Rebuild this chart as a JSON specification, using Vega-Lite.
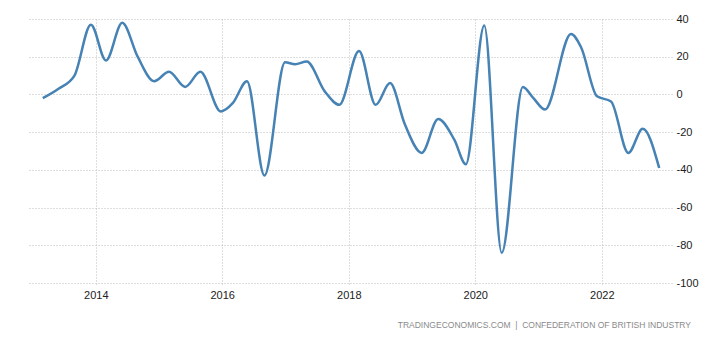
{
  "$schema": "https://vega.github.io/schema/vega-lite/v6.json",
  "width": 645,
  "height": 264,
  "padding": {"left": 27, "top": 13, "right": 5, "bottom": 5},
  "background": "white",
  "config": {"view": {"stroke": null}, "font": "Liberation Sans"},
  "title": {
    "text": "TRADINGECONOMICS.COM \u00a0|\u00a0 CONFEDERATION OF BRITISH INDUSTRY",
    "orient": "bottom",
    "anchor": "end",
    "frame": "group",
    "dx": 19,
    "offset": 21,
    "fontSize": 8.5,
    "fontWeight": "normal",
    "color": "#8a8a8a",
    "font": "Liberation Sans"
  },
  "data": {
    "values": [
      {"date": "2013-03-01", "value": -2},
      {"date": "2013-05-31", "value": 3},
      {"date": "2013-08-31", "value": 10},
      {"date": "2013-12-04", "value": 37},
      {"date": "2014-03-01", "value": 18},
      {"date": "2014-06-03", "value": 38},
      {"date": "2014-08-31", "value": 20},
      {"date": "2014-12-04", "value": 7},
      {"date": "2015-02-28", "value": 12},
      {"date": "2015-06-01", "value": 4},
      {"date": "2015-08-28", "value": 12},
      {"date": "2015-12-24", "value": -9},
      {"date": "2016-03-03", "value": -4.5},
      {"date": "2016-05-23", "value": 7},
      {"date": "2016-09-01", "value": -43},
      {"date": "2016-12-29", "value": 17},
      {"date": "2017-02-25", "value": 16},
      {"date": "2017-05-03", "value": 17.5},
      {"date": "2017-08-16", "value": 1.5},
      {"date": "2017-11-07", "value": -5.5},
      {"date": "2018-03-01", "value": 23},
      {"date": "2018-06-05", "value": -5.5},
      {"date": "2018-08-27", "value": 6},
      {"date": "2018-11-21", "value": -16},
      {"date": "2019-02-26", "value": -31},
      {"date": "2019-06-01", "value": -13},
      {"date": "2019-09-02", "value": -24},
      {"date": "2019-11-08", "value": -37},
      {"date": "2020-02-22", "value": 36.5},
      {"date": "2020-06-02", "value": -84},
      {"date": "2020-10-02", "value": 4},
      {"date": "2020-12-02", "value": -2},
      {"date": "2021-02-07", "value": -8},
      {"date": "2021-07-07", "value": 32},
      {"date": "2021-09-03", "value": 25},
      {"date": "2021-12-04", "value": -1},
      {"date": "2022-02-23", "value": -3.7},
      {"date": "2022-06-03", "value": -31},
      {"date": "2022-08-25", "value": -18.2},
      {"date": "2022-11-28", "value": -39}
    ]
  },
  "mark": {"type": "line", "interpolate": "monotone", "color": "#4682b4", "strokeWidth": 2.5},
  "encoding": {
    "x": {
      "field": "date",
      "type": "temporal",
      "scale": {"domain": [{"year": 2012, "month": 11, "date": 30}, {"year": 2023, "month": 2, "date": 10}]},
      "axis": {
        "title": null,
        "format": "%Y",
        "tickCount": {"interval": "year", "step": 2},
        "grid": true,
        "gridDash": [1, 2],
        "gridColor": "#bdbdbd",
        "domain": false,
        "ticks": true,
        "tickSize": 3,
        "tickDash": [1, 2],
        "tickColor": "#bdbdbd",
        "labelFontSize": 11,
        "labelColor": "#222222",
        "labelPadding": 3
      }
    },
    "y": {
      "field": "value",
      "type": "quantitative",
      "scale": {"domain": [-100, 40], "nice": false, "zero": false},
      "axis": {
        "orient": "right",
        "title": null,
        "values": [-100, -80, -60, -40, -20, 0, 20, 40],
        "labelExpr": "'' + datum.value",
        "grid": true,
        "gridDash": [1, 2],
        "gridColor": "#bdbdbd",
        "domain": false,
        "ticks": false,
        "labelPadding": 4,
        "labelFontSize": 11,
        "labelColor": "#222222"
      }
    }
  }
}
